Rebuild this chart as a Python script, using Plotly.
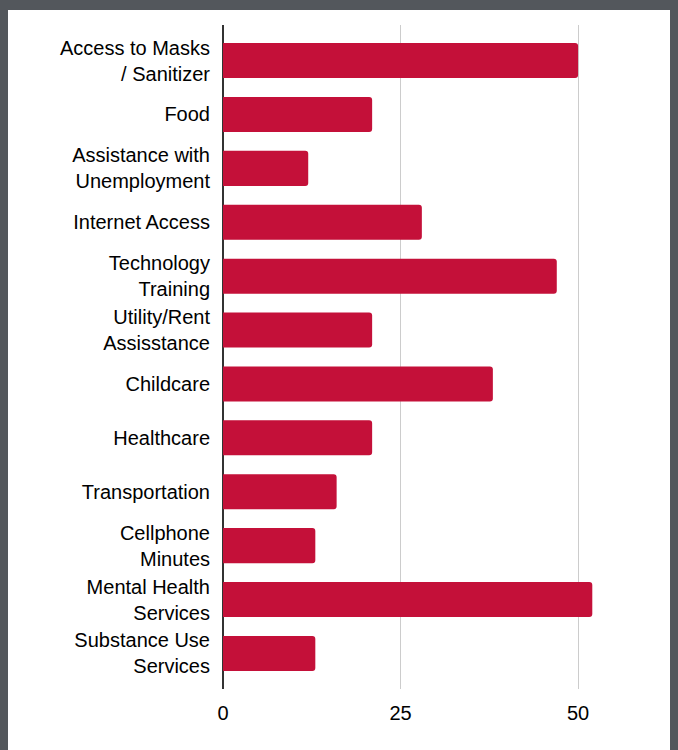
import plotly.graph_objects as go

categories = [
    "Access to Masks<br>/ Sanitizer",
    "Food",
    "Assistance with<br>Unemployment",
    "Internet Access",
    "Technology<br>Training",
    "Utility/Rent<br>Assisstance",
    "Childcare",
    "Healthcare",
    "Transportation",
    "Cellphone<br>Minutes",
    "Mental Health<br>Services",
    "Substance Use<br>Services",
]
values = [50, 21, 12, 28, 47, 21, 38, 21, 16, 13, 52, 13]
x_ticks = [0, 25, 50]

W, H = 678, 750
L, R, T, B = 223, 36, 25, 61
pw, ph = W - L - R, H - T - B
n = len(categories)
pad = 0.16

fig = go.Figure(go.Bar(
    x=values, y=categories, orientation="h",
    marker=dict(color="#C41039", cornerradius=3, line=dict(width=0)),
))

fig.add_shape(type="rect", xref="paper", yref="paper", layer="below",
              x0=(8 - L) / pw, x1=(670 - L) / pw,
              y0=-(B + 20) / ph, y1=1 + (T - 10) / ph,
              fillcolor="white", line=dict(width=0))

fig.update_layout(
    width=W, height=H,
    margin=dict(l=L, r=R, t=T, b=B),
    paper_bgcolor="#53575c",
    plot_bgcolor="white",
    bargap=0.35,
    showlegend=False,
    font=dict(family="Liberation Sans, Arial", size=20, color="#000"),
)
fig.update_xaxes(range=[0, 59], tickvals=x_ticks, showgrid=True, gridcolor="#cccccc",
                 gridwidth=1, zeroline=True, zerolinecolor="#333333", zerolinewidth=2,
                 showline=False, ticks="", ticklabelstandoff=10, fixedrange=True)
fig.update_yaxes(range=[n - 0.5 + pad, -0.5 - pad], showgrid=False, showline=False,
                 ticks="", ticklabelstandoff=12, fixedrange=True)

fig.write_html("out.html")
